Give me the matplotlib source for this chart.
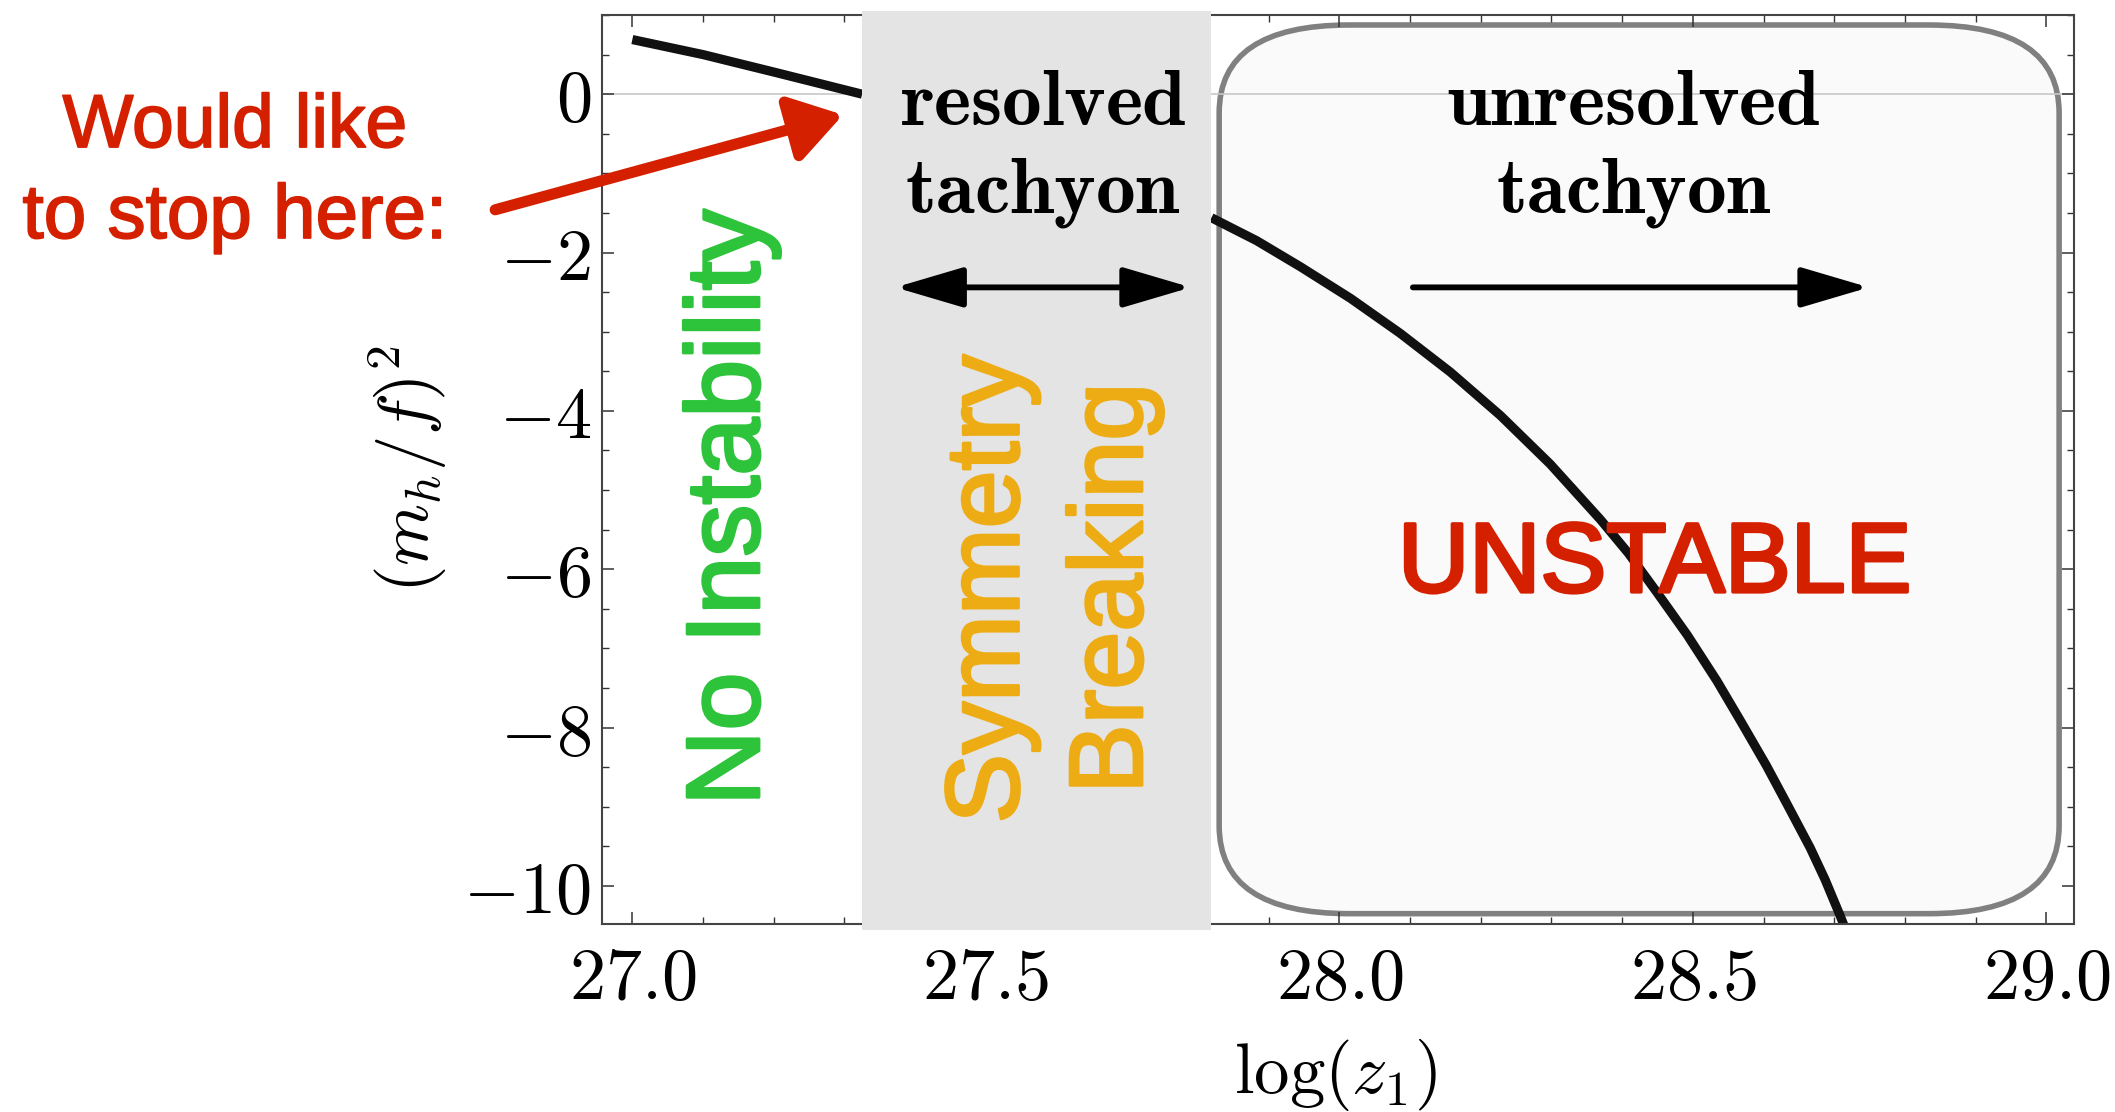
import matplotlib
matplotlib.use('Agg')
import matplotlib.pyplot as plt
import matplotlib.patheffects as pe
from matplotlib.patches import FancyBboxPatch, FancyArrowPatch
from matplotlib.ticker import MultipleLocator, FixedLocator, FuncFormatter

# ---------------- data ----------------
x_stable = [27.0, 27.1, 27.2, 27.325]
y_stable = [0.69, 0.50, 0.28, 0.0]

x_tachyon = [27.819, 27.883, 27.945, 28.016, 28.086, 28.157, 28.228, 28.298, 28.369,
             28.409, 28.449, 28.492, 28.534, 28.569, 28.604, 28.634, 28.666, 28.687,
             28.708, 28.716]
y_tachyon = [-1.56, -1.85, -2.18, -2.58, -3.02, -3.51, -4.06, -4.67, -5.37,
             -5.80, -6.29, -6.83, -7.41, -7.94, -8.48, -8.98, -9.52, -9.92,
             -10.37, -10.55]

x_ticks = [27.0, 27.5, 28.0, 28.5, 29.0]
y_ticks = [0, -2, -4, -6, -8, -10]

band_x = (27.325, 27.818)          # resolved tachyon / symmetry breaking
box_x = (27.830, 29.018)           # unresolved tachyon / unstable
box_y = (-10.35, 0.874)
arrow_y = -2.44
resolved_arrow_x = (27.372, 27.79)
unresolved_arrow_x = (28.104, 28.749)
pointer_tail = (26.806, -1.46)
pointer_tip = (27.298, -0.26)

RED = '#D52000'
GREEN = '#2DC43C'
ORANGE = '#EDAC14'
SANS = ['Liberation Sans', 'DejaVu Sans']

plt.rcParams['mathtext.fontset'] = 'cm'


def heavier(color, w=1.6):
    return [pe.withStroke(linewidth=w, foreground=color)]


fig = plt.figure(figsize=(21.15, 11.12), dpi=100)
fig.patch.set_facecolor('white')
ax = fig.add_axes([0.2846, 0.1691, 0.6960, 0.8174])
ax.set_xlim(26.957, 29.039)
ax.set_ylim(-10.48, 1.0)

# ticks
ax.xaxis.set_major_locator(FixedLocator(x_ticks))
ax.xaxis.set_minor_locator(MultipleLocator(0.1))
ax.yaxis.set_major_locator(FixedLocator(y_ticks))
ax.yaxis.set_minor_locator(MultipleLocator(0.5))
ax.xaxis.set_major_formatter(FuncFormatter(lambda v, p: r'$%.1f$' % v))
ax.yaxis.set_major_formatter(FuncFormatter(lambda v, p: r'$%d$' % round(v)))
ax.tick_params(which='both', direction='in', top=True, right=True, colors='#333333')
ax.tick_params(which='major', length=8.5, width=1.1, labelsize=52, labelcolor='black')
ax.tick_params(which='minor', length=5, width=1.0)
ax.tick_params(axis='x', which='major', pad=15)
ax.tick_params(axis='y', which='major', pad=8)
for s in ax.spines.values():
    s.set_color('#444444')
    s.set_linewidth(1.5)

# labels
ax.set_xlabel(r'$\log(z_1)$', fontsize=51, va='center')
ax.xaxis.set_label_coords(0.4986, -0.166)
ax.set_ylabel(r'$(m_h/f)^2$', fontsize=51, va='center')
ax.yaxis.set_label_coords(-0.132, 0.5)

# unstable rounded box
box = FancyBboxPatch((box_x[0], box_y[0]), box_x[1] - box_x[0], box_y[1] - box_y[0],
                     boxstyle='round,pad=0,rounding_size=0.184', mutation_aspect=6.03,
                     facecolor='#FAFAFA', edgecolor='#808080', linewidth=4.0, zorder=1)
ax.add_patch(box)

# zero line
ax.axhline(0, color='#C8C8C8', lw=1.2, zorder=1.5)

# curves
ax.plot(x_stable, y_stable, color='#111111', lw=6.6, solid_capstyle='butt',
        solid_joinstyle='round', zorder=2.2)
ax.plot(x_tachyon, y_tachyon, color='#111111', lw=6.6, solid_capstyle='butt',
        solid_joinstyle='round', zorder=2.2)

# symmetry-breaking band
ax.axvspan(band_x[0], band_x[1], ymin=-0.007, ymax=1.004, color='#E4E4E4', lw=0,
           zorder=3, clip_on=False)

# region texts
ax.text(27.581, -0.387, r'$\mathbf{resolved}$', fontsize=57, ha='center', va='baseline', zorder=5)
ax.text(27.581, -1.497, r'$\mathbf{tachyon}$', fontsize=57, ha='center', va='baseline', zorder=5)
ax.text(28.416, -0.387, r'$\mathbf{unresolved}$', fontsize=57, ha='center', va='baseline', zorder=5)
ax.text(28.416, -1.497, r'$\mathbf{tachyon}$', fontsize=57, ha='center', va='baseline', zorder=5)

# arrows
a1 = FancyArrowPatch((resolved_arrow_x[0], arrow_y), (resolved_arrow_x[1], arrow_y),
                     arrowstyle='<|-|>,head_length=2.1,head_width=0.62', mutation_scale=20,
                     lw=4.2, color='black', shrinkA=0, shrinkB=0, zorder=5)
ax.add_patch(a1)
a2 = FancyArrowPatch((unresolved_arrow_x[0], arrow_y), (unresolved_arrow_x[1], arrow_y),
                     arrowstyle='-|>,head_length=2.1,head_width=0.62', mutation_scale=20,
                     lw=4.2, color='black', shrinkA=0, shrinkB=0, zorder=5)
ax.add_patch(a2)

# rotated labels
ax.text(27.179, -5.22, 'No Instability', fontsize=75, color=GREEN, family=SANS,
        rotation=90, rotation_mode='anchor', ha='center', va='baseline', zorder=5,
        path_effects=heavier(GREEN, 2.2))
ax.text(27.546, -6.25, 'Symmetry', fontsize=75, color=ORANGE, family=SANS,
        rotation=90, rotation_mode='anchor', ha='center', va='baseline', zorder=5,
        path_effects=heavier(ORANGE, 2.2))
ax.text(27.7207, -6.24, 'Breaking', fontsize=75, color=ORANGE, family=SANS,
        rotation=90, rotation_mode='anchor', ha='center', va='baseline', zorder=5,
        path_effects=heavier(ORANGE, 2.2))
ax.text(28.446, -6.285, 'UNSTABLE', fontsize=71, color=RED, family=SANS,
        ha='center', va='baseline', zorder=5, path_effects=heavier(RED, 2.6))

# red pointer annotation
fig.text(0.111, 0.8678, 'Would like', fontsize=54, color=RED, family=SANS,
         ha='center', va='baseline', path_effects=heavier(RED, 1.3))
fig.text(0.111, 0.786, 'to stop here:', fontsize=55, color=RED, family=SANS,
         ha='center', va='baseline', path_effects=heavier(RED, 1.3))
ann = ax.annotate('', xy=pointer_tip, xytext=pointer_tail, xycoords='data',
                  annotation_clip=False, zorder=6,
                  arrowprops=dict(arrowstyle='-|>,head_length=1.55,head_width=1.0',
                                  mutation_scale=20, lw=8, color=RED,
                                  shrinkA=0, shrinkB=0))
ann.arrow_patch.set_clip_on(False)

fig.savefig('out.png', dpi=100, facecolor='white')
